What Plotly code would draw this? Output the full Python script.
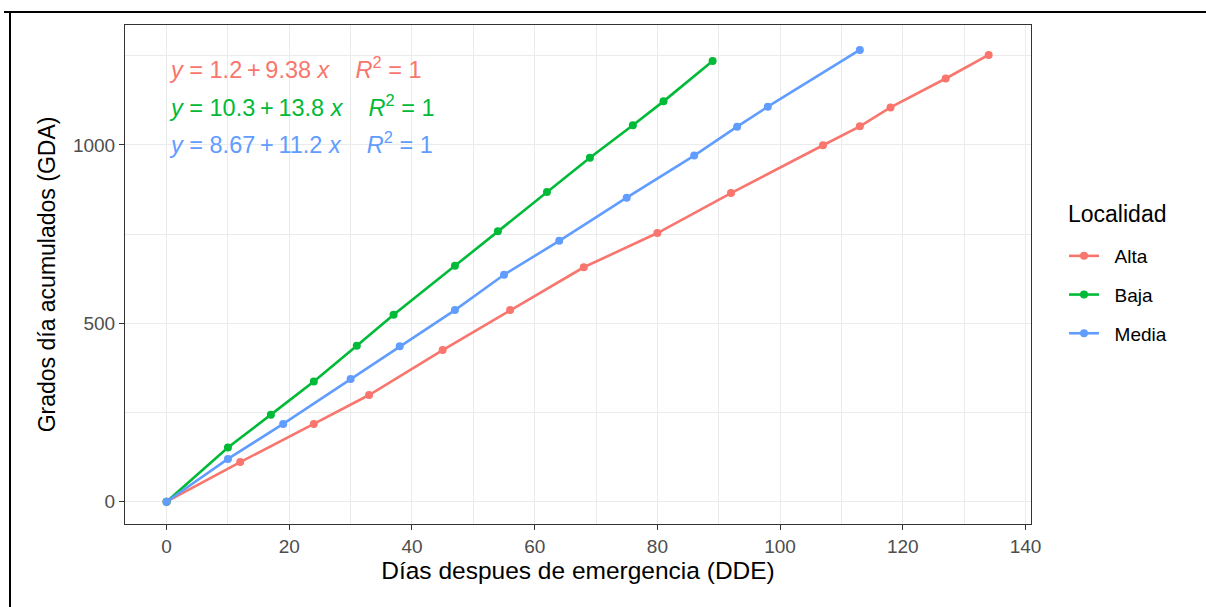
import plotly.graph_objects as go

# ---- data ----
localidades = ["Alta", "Baja", "Media"]
colores = ["#F8766D", "#00BA38", "#619CFF"]

alta_dde = [0, 12, 24, 33, 45, 56, 68, 80, 92, 107, 113, 118, 127, 134]
alta_gda = [0, 111, 218, 299, 425, 537, 657, 753, 865, 999, 1052, 1105, 1186, 1252]

baja_dde = [0, 10, 17, 24, 31, 37, 47, 54, 62, 69, 76, 81, 89]
baja_gda = [0, 152, 244, 337, 437, 524, 661, 758, 868, 964, 1055, 1122, 1235]

media_dde = [0, 10, 19, 30, 38, 47, 55, 64, 75, 86, 93, 98, 113]
media_gda = [0, 120, 218, 344, 436, 537, 636, 731, 852, 970, 1051, 1107, 1266]

TS = "\u2009"  # thin space, as plotmath spaces operators
ecuaciones = [
    f"<i>y</i> = 1.2{TS}+{TS}9.38 <i>x</i>    <i>R</i><sup>2</sup> = 1",
    f"<i>y</i> = 10.3{TS}+{TS}13.8 <i>x</i>    <i>R</i><sup>2</sup> = 1",
    f"<i>y</i> = 8.67{TS}+{TS}11.2 <i>x</i>    <i>R</i><sup>2</sup> = 1",
]
ecuacion_y = [1216, 1110, 1004]

x_ticks = [0, 20, 40, 60, 80, 100, 120, 140]
y_ticks = [0, 500, 1000]

FONT = "Liberation Sans, Arial, sans-serif"
NB = "\u00a0\u00a0"

fig = go.Figure()
series = [(alta_dde, alta_gda), (baja_dde, baja_gda), (media_dde, media_gda)]
for name, col, (xs, ys) in zip(localidades, colores, series):
    fig.add_trace(go.Scatter(
        x=xs, y=ys, name=NB + name, mode="lines+markers",
        legendgroup=name,
        line=dict(color=col, width=2.6),
        marker=dict(color=col, size=8),
    ))

for txt, yy, col in zip(ecuaciones, ecuacion_y, colores):
    fig.add_annotation(x=0, y=yy, xref="x", yref="y", text=txt, showarrow=False,
                       xanchor="left", yanchor="middle",
                       font=dict(family=FONT, size=23.5, color=col))

# outer frame lines (decorative)
L, R, T, B = 125, 175, 25, 83
W, H = 1206, 607
pw, ph = W - L - R, H - T - B
def px(x):
    return (x - L) / pw
def py(y):
    return (H - B - y) / ph
fig.add_shape(type="line", xref="paper", yref="paper",
              x0=px(4), x1=px(1206), y0=py(12), y1=py(12),
              line=dict(color="black", width=2))
fig.add_shape(type="line", xref="paper", yref="paper",
              x0=px(10), x1=px(10), y0=py(12), y1=py(607),
              line=dict(color="black", width=2))

# legend title
fig.add_annotation(x=px(1066), y=py(214), xref="paper", yref="paper",
                   text="Localidad", showarrow=False, xanchor="left", yanchor="middle",
                   font=dict(family=FONT, size=23, color="black"))

axis_common = dict(
    showline=True, linecolor="#333333", linewidth=1, mirror=True,
    ticks="outside", ticklen=5, tickcolor="#333333", tickwidth=1,
    showgrid=True, gridcolor="#EBEBEB", gridwidth=1.2,
    zeroline=False,
    tickfont=dict(family=FONT, size=19, color="#4D4D4D"),
)

fig.update_xaxes(
    range=[-6.78, 140.9], tickvals=x_ticks,
    minor=dict(dtick=10, tick0=0, showgrid=True, gridcolor="#EBEBEB", gridwidth=1, ticks=""),
    title=dict(text="Días despues de emergencia (DDE)", font=dict(family=FONT, size=24.5, color="black"), standoff=6),
    **axis_common,
)
fig.update_yaxes(
    range=[-62.5, 1336], tickvals=y_ticks,
    minor=dict(dtick=250, tick0=0, showgrid=True, gridcolor="#EBEBEB", gridwidth=1, ticks=""),
    title=dict(text="Grados día acumulados (GDA)", font=dict(family=FONT, size=23, color="black"), standoff=10),
    **axis_common,
)

fig.update_layout(
    width=W, height=H,
    margin=dict(l=L, r=R, t=T, b=B),
    paper_bgcolor="white", plot_bgcolor="white",
    font=dict(family=FONT),
    legend=dict(
        font=dict(family=FONT, size=19, color="black"),
        x=px(1064), xanchor="left", y=py(295), yanchor="middle",
        tracegroupgap=11, bgcolor="rgba(0,0,0,0)",
    ),
    showlegend=True,
)

fig.write_html("out.html", config={"displayModeBar": False},
               post_script="document.body.style.margin='0';")
